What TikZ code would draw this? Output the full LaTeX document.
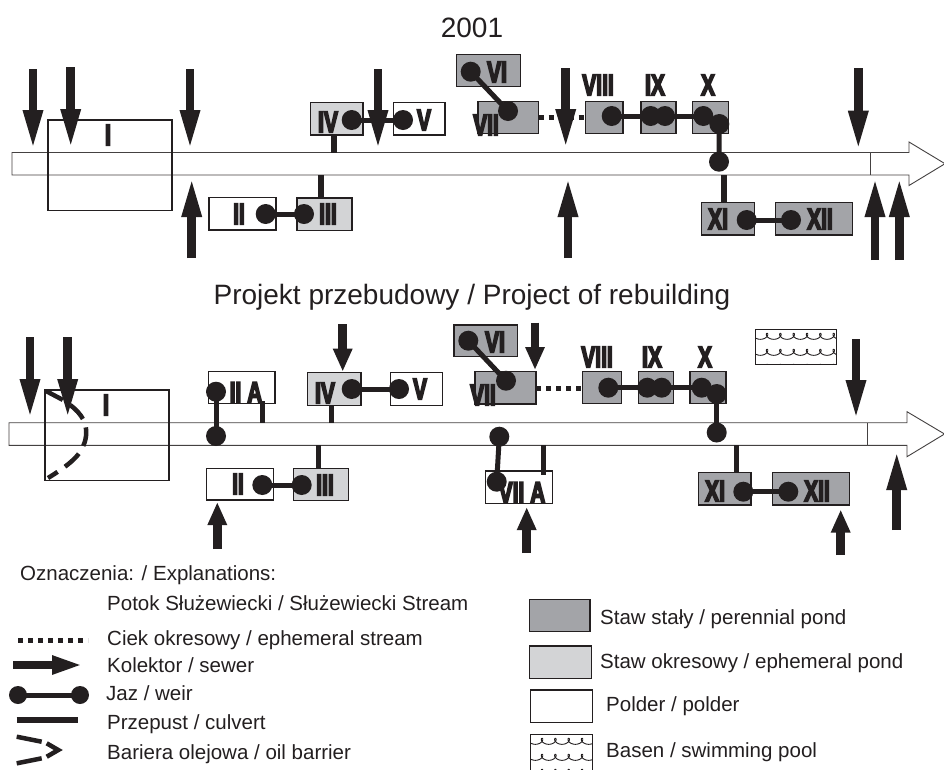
\documentclass[tikz,border=0pt]{standalone}
\usepackage{fontspec}
\setmainfont{Liberation Sans}
\newfontfamily\numf{Liberation Sans}[FakeStretch=0.7, BoldFeatures={FakeBold=5}]
\usetikzlibrary{arrows.meta}
\definecolor{ink}{RGB}{35,31,32}
\definecolor{pdark}{RGB}{163,164,168}
\definecolor{plight}{RGB}{211,212,214}
\tikzset{
 band/.style={draw=ink!85, line width=0.9pt, fill=white},
 boxbase/.style={draw=ink, line width=1.3pt, inner sep=0pt, outer sep=0pt},
 pdk/.style={boxbase, fill=pdark},
 plt/.style={boxbase, fill=plight},
 pold/.style={boxbase, fill=white},
 lbl/.style={font=\numf\bfseries\fontsize{30}{30}\selectfont, inner sep=0pt, text=ink},
 weir/.style={line width=5pt, draw=ink},
 culv/.style={line width=5.5pt, draw=ink},
 ditch/.style={line width=5pt, draw=ink, dash pattern=on 5pt off 5pt},
 sewL/.style={line width=8.5pt, draw=ink, -{Triangle[length=40pt,width=18pt]}},
 sewS/.style={line width=8.5pt, draw=ink, -{Triangle[length=23pt,width=18pt]}},
 ttl/.style={font=\fontsize{28}{30}\selectfont, text=ink, inner sep=0pt},
 leg/.style={font=\fontsize{20.5}{24}\selectfont, text=ink, inner sep=0pt, anchor=base west},
 barrier/.style={line width=4.5pt, draw=ink},
}
\newcommand\pbox[6]{\node[#1, minimum width={#5-#3}, minimum height={#6-#4}] (#2) at ({(#3+#5)/2},{(#4+#6)/2}) {};}
\newcommand\wdot[1]{\fill[ink] (#1) circle (10);}
\newcommand\waves[4]{%
 \begin{scope}
 \clip (#1,#2) rectangle (#3,#4);
 \foreach \r in {7,23,38}{
  \draw[ink, line width=0.9pt] plot[domain=0:3000, samples=400, smooth] ({#1-2+\x/27-3.4*sin(\x)}, {#2+\r-3*cos(\x)});
 }
 \end{scope}}
\begin{document}
\begin{tikzpicture}[x=1pt,y=-1pt]
\useasboundingbox (0,0) rectangle (944,769);
\fill[white] (0,0) rectangle (944,769);

% ================= 2001 =================
\node[ttl] (t1) at (472,28) {2001};
\draw[band] (12,152.5) -- (909,152.5) -- (909,142) -- (945,163.7) -- (909,185.5) -- (909,175) -- (12,175) -- cycle;
\draw[band] (870,152.5) -- (870,175);
\pbox{boxbase}{It}{48}{120}{172}{210.7}
\node[lbl] at (108,135) {I};

\pbox{pold}{IIt}{209}{197.7}{276}{230}
\pbox{plt}{IIIt}{297}{198}{352}{230.7}
\pbox{plt}{IVt}{310.7}{102.7}{363}{135}
\pbox{pold}{Vt}{393.7}{102.7}{445}{135}
\pbox{pdk}{VIt}{456.7}{54.7}{520.7}{86.7}
\pbox{pdk}{VIIt}{478}{101.7}{538.7}{133.7}
\pbox{pdk}{VIIIt}{585.7}{101.7}{623}{133.3}
\pbox{pdk}{IXt}{641}{101.7}{676}{133.3}
\pbox{pdk}{Xt}{692.3}{101.7}{728.7}{133.3}
\pbox{pdk}{XIt}{701.7}{202.7}{754.3}{235}
\pbox{pdk}{XIIt}{775.3}{202.7}{852.7}{235}

\node[lbl] at (239,214) {II};
\node[lbl] at (328,214) {III};
\node[lbl] at (328,122) {IV};
\node[lbl] at (424,120) {V};
\node[lbl] at (497,72) {VI};
\node[lbl] at (486,125) {VII};
\node[lbl] at (598,85) {VIII};
\node[lbl] at (655,85) {IX};
\node[lbl] at (708,85) {X};
\node[lbl] at (718,219) {XI};
\node[lbl] at (820,219) {XII};

\draw[culv] (334,135) -- (334,152.5);
\draw[culv] (321,175) -- (321,198);
\draw[culv] (724,175) -- (724,202.7);
\draw[ditch] (538.7,117) -- (585.7,117);

\coordinate (dIVt) at (351.7,120); \coordinate (dVt) at (403,120);
\coordinate (dIIt) at (265.7,214); \coordinate (dIIIt) at (304,214);
\coordinate (dVIt) at (470.7,71.7); \coordinate (dVIIt) at (508,111);
\coordinate (dVIIIt) at (611.7,116); \coordinate (dIXat) at (650.7,116); \coordinate (dIXbt) at (665,116);
\coordinate (dXat) at (703.3,116); \coordinate (dXbt) at (719.3,124); \coordinate (dXct) at (719,161.7);
\coordinate (dXIt) at (746.7,220); \coordinate (dXIIt) at (791,220);
\draw[weir] (dIVt) -- (dVt);
\draw[weir] (dIIt) -- (dIIIt);
\draw[weir] (dVIt) -- (dVIIt);
\draw[weir] (dVIIIt) -- (dXat);
\draw[weir] (dXbt) -- (dXct);
\draw[weir] (dXIt) -- (dXIIt);
\foreach \d in {dIVt,dVt,dIIt,dIIIt,dVIt,dVIIt,dVIIIt,dIXat,dIXbt,dXat,dXbt,dXct,dXIt,dXIIt}{\wdot{\d}}

\draw[sewL] (33,69) -- (33,150);
\draw[sewL] (70.7,67) -- (70.7,149);
\draw[sewL] (190,69) -- (190,150);
\draw[sewL] (378,69) -- (378,150);
\draw[sewL] (565.7,68) -- (565.7,149);
\draw[sewL] (858.3,68) -- (858.3,150.7);
\draw[sewL] (191.7,258) -- (191.7,177);
\draw[sewL] (568,258) -- (568,177);
\draw[sewL] (875,260) -- (875,177);
\draw[sewL] (899.3,260) -- (899.3,177);

% ================= Project =================
\node[ttl] (t2) at (472,297) {Projekt przebudowy / Project of rebuilding};
\draw[band] (9,422.7) -- (907,422.7) -- (907,411.7) -- (944.5,434) -- (907,456.7) -- (907,445.3) -- (9,445.3) -- cycle;
\draw[band] (867.3,422.7) -- (867.3,445.3);
\pbox{boxbase}{Ib}{45}{390}{169}{480.7}
\node[lbl] at (106,405) {I};
\draw[barrier, dash pattern=on 19pt off 9pt] (46,391) -- (64,400.5) .. controls (78,410) and (88,420) .. (86,436) .. controls (84,452) and (74,462) .. (48,478);

\pbox{pold}{IIAb}{208.3}{371.7}{275}{403.3}
\pbox{pold}{IIb}{206.7}{468.3}{273.3}{500}
\pbox{plt}{IIIb}{293.3}{468.3}{348.3}{500.7}
\pbox{plt}{IVb}{307.3}{372.7}{361}{405.3}
\pbox{pold}{Vb}{390.7}{372.7}{442.3}{405.3}
\pbox{pdk}{VIb}{454}{325}{517.7}{356.7}
\pbox{pdk}{VIIb}{475}{371.7}{536}{404}
\pbox{pdk}{VIIIb}{582.7}{371.7}{621.7}{403.3}
\pbox{pdk}{IXb}{638.7}{371.7}{673.3}{403.3}
\pbox{pdk}{Xb}{690}{371.7}{726}{403.3}
\pbox{pold}{VIIAb}{485.7}{471}{552.3}{503.3}
\pbox{pdk}{XIb}{698.3}{472.7}{751}{505}
\pbox{pdk}{XIIb}{772.7}{472.7}{849.3}{505}
\pbox{pold}{Pool}{755.7}{329.3}{836.7}{364.3}
\waves{755.7}{329.3}{836.7}{364.3}
\draw[boxbase] (755.7,329.3) rectangle (836.7,364.3);

\node[lbl] at (246,392.5) {II A};
\node[lbl] at (238,484) {II};
\node[lbl] at (325,485) {III};
\node[lbl] at (325,393) {IV};
\node[lbl] at (420,389) {V};
\node[lbl] at (495,342) {VI};
\node[lbl] at (483,395) {VII};
\node[lbl] at (597,357) {VIII};
\node[lbl] at (652,357) {IX};
\node[lbl] at (705,357) {X};
\node[lbl] at (522,492.5) {VII A};
\node[lbl] at (715,491) {XI};
\node[lbl] at (817,491) {XII};

\draw[culv] (262.3,401) -- (262.3,422.7);
\draw[culv] (331.7,405.3) -- (331.7,422.7);
\draw[culv] (318.3,445.3) -- (318.3,468.3);
\draw[culv] (543.3,445.3) -- (543.3,475);
\draw[culv] (736.7,445.3) -- (736.7,472.7);
\draw[ditch] (536,388.3) -- (582.7,388.3);

\coordinate (dIIAb) at (216,391.7); \coordinate (dIIAc) at (216,436);
\coordinate (dIIb) at (262.3,485); \coordinate (dIIIb) at (301.7,485);
\coordinate (dIVb) at (351.7,389); \coordinate (dVb) at (399,389);
\coordinate (dVIb) at (468.3,340.7); \coordinate (dVIIb) at (506,380.7);
\coordinate (dVIIIb) at (608.3,387.7); \coordinate (dIXab) at (647.3,387.7); \coordinate (dIXbb) at (661.7,387.7);
\coordinate (dXab) at (701.7,387.7); \coordinate (dXbb) at (716.7,394); \coordinate (dXcb) at (716.7,432.5);
\coordinate (dVIIAc) at (499.3,436.7); \coordinate (dVIIAb) at (496.7,481.7);
\coordinate (dXIb) at (743.3,491.7); \coordinate (dXIIb) at (788.3,491.7);
\draw[weir] (dIIAb) -- (dIIAc);
\draw[weir] (dIIb) -- (dIIIb);
\draw[weir] (dIVb) -- (dVb);
\draw[weir] (dVIb) -- (dVIIb);
\draw[weir] (dVIIIb) -- (dXab);
\draw[weir] (dXbb) -- (dXcb);
\draw[weir] (dVIIAc) -- (dVIIAb);
\draw[weir] (dXIb) -- (dXIIb);
\foreach \d in {dIIAb,dIIAc,dIIb,dIIIb,dIVb,dVb,dVIb,dVIIb,dVIIIb,dIXab,dIXbb,dXab,dXbb,dXcb,dVIIAc,dVIIAb,dXIb,dXIIb}{\wdot{\d}}

\draw[sewL] (30,337) -- (30,419);
\draw[sewL] (67.7,337) -- (67.7,419);
\draw[sewL] (856,339) -- (856,420);
\draw[sewS] (342.7,324) -- (342.7,371.7);
\draw[sewS] (535,322.7) -- (535,370);
\draw[sewS] (217.3,549) -- (217.3,502);
\draw[sewS] (526.7,553) -- (526.7,507);
\draw[sewS] (840.7,555) -- (840.7,509.5);
\draw[sewL] (896.7,530) -- (896.7,450);

% ================= Legend =================
\node[leg] (lh) at (20,580.7) {Oznaczenia: / Explanations:};
\node[leg] (l1) at (107,610) {Potok Służewiecki / Służewiecki Stream};
\node[leg] (l2) at (107,645) {Ciek okresowy / ephemeral stream};
\node[leg] (l3) at (107,672) {Kolektor / sewer};
\node[leg] (l4) at (106,700.7) {Jaz / weir};
\node[leg] (l5) at (107,729) {Przepust / culvert};
\node[leg] (l6) at (107,759) {Bariera olejowa / oil barrier};

\draw[ditch] (18,640) -- (88,640);
\draw[line width=8pt, ink, -{Triangle[length=31pt,width=17pt]}] (13,665) -- (83,665);
\coordinate (lwa) at (18,695); \coordinate (lwb) at (80,695);
\draw[weir] (lwa) -- (lwb);
\fill[ink] (lwa) circle (9); \fill[ink] (lwb) circle (9);
\draw[culv] (16.7,720) -- (78,720);
\draw[barrier] (16.7,736.7) -- (41.7,741.7);
\draw[barrier, miter limit=4] (46.7,743.3) -- (58.3,750) -- (46.7,756.7);
\draw[barrier] (16.7,763.3) -- (41.7,758.3);

\pbox{pdk}{k1}{529.3}{599.3}{590}{631.7}
\pbox{plt}{k2}{529.3}{646}{591.7}{678.3}
\pbox{pold}{k3}{530.7}{690}{592.7}{722.3}
\pbox{pold}{k4}{530.7}{734.3}{592.7}{775}
\waves{530.7}{734.3}{592.7}{769}
\draw[boxbase] (530.7,734.3) rectangle (592.7,775);
\node[leg] (r1) at (600,624) {Staw stały / perennial pond};
\node[leg] (r2) at (600,668.3) {Staw okresowy / ephemeral pond};
\node[leg] (r3) at (606,711.7) {Polder / polder};
\node[leg] (r4) at (606,757.3) {Basen / swimming pool};
\end{tikzpicture}
\end{document}
